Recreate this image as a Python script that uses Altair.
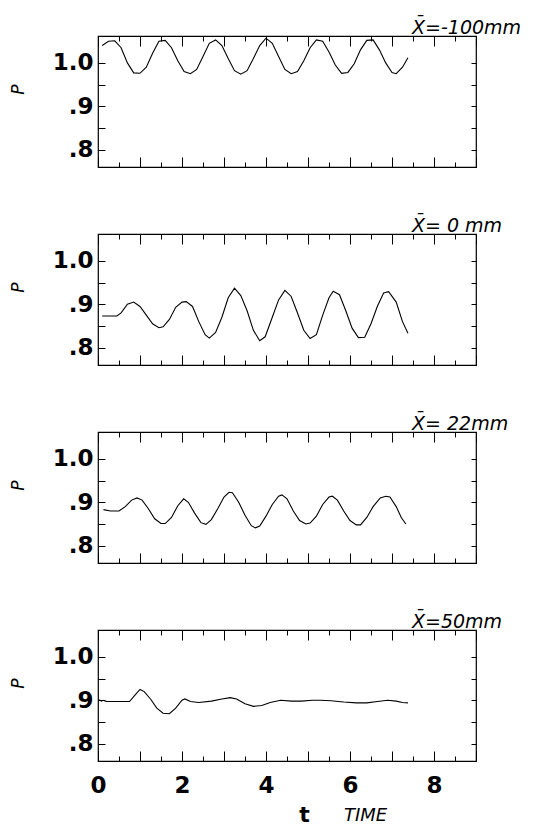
import altair as alt
import pandas as pd

# ---- data ----
t_m100 = [0.10, 0.25, 0.40, 0.55, 0.70, 0.85, 1.00, 1.15, 1.30, 1.45, 1.60, 1.75, 1.90, 2.05,
          2.20, 2.35, 2.50, 2.65, 2.80, 2.95, 3.10, 3.25, 3.40, 3.55, 3.70, 3.85, 4.00, 4.15,
          4.30, 4.45, 4.60, 4.75, 4.90, 5.05, 5.20, 5.35, 5.50, 5.65, 5.80, 5.95, 6.10, 6.25,
          6.40, 6.55, 6.70, 6.85, 7.00, 7.10, 7.25, 7.38]
p_m100 = [1.040, 1.050, 1.051, 1.035, 1.000, 0.977, 0.976, 0.990, 1.022, 1.050, 1.052, 1.035,
          1.005, 0.980, 0.975, 0.985, 1.015, 1.045, 1.053, 1.040, 1.010, 0.982, 0.974, 0.982,
          1.010, 1.040, 1.057, 1.045, 1.015, 0.985, 0.975, 0.980, 1.005, 1.035, 1.053, 1.050,
          1.025, 0.995, 0.976, 0.978, 0.998, 1.030, 1.052, 1.053, 1.030, 1.000, 0.978, 0.975,
          0.990, 1.012]

t_0 = [0.10, 0.45, 0.55, 0.70, 0.85, 1.00, 1.15, 1.30, 1.45, 1.55, 1.70, 1.85, 2.00, 2.10,
       2.25, 2.40, 2.55, 2.65, 2.80, 2.95, 3.10, 3.25, 3.40, 3.55, 3.70, 3.85, 3.98, 4.15,
       4.30, 4.45, 4.60, 4.75, 4.90, 5.05, 5.20, 5.35, 5.50, 5.60, 5.75, 5.90, 6.05, 6.20,
       6.35, 6.50, 6.65, 6.80, 6.92, 7.10, 7.25, 7.38]
p_0 = [0.873, 0.873, 0.880, 0.900, 0.905, 0.895, 0.875, 0.855, 0.846, 0.848, 0.865, 0.893,
       0.905, 0.906, 0.895, 0.860, 0.830, 0.822, 0.835, 0.870, 0.915, 0.937, 0.920, 0.885,
       0.840, 0.816, 0.825, 0.870, 0.910, 0.932, 0.918, 0.880, 0.840, 0.821, 0.830, 0.875,
       0.915, 0.930, 0.922, 0.885, 0.845, 0.823, 0.824, 0.855, 0.895, 0.926, 0.929, 0.905,
       0.860, 0.833]

t_22 = [0.13, 0.30, 0.50, 0.65, 0.80, 0.93, 1.05, 1.20, 1.35, 1.50, 1.60, 1.75, 1.90, 2.04,
        2.15, 2.30, 2.45, 2.57, 2.70, 2.85, 3.00, 3.12, 3.20, 3.35, 3.50, 3.65, 3.75, 3.85,
        4.00, 4.15, 4.30, 4.38, 4.50, 4.65, 4.80, 4.95, 5.05, 5.20, 5.35, 5.50, 5.58, 5.70,
        5.85, 6.00, 6.15, 6.25, 6.40, 6.55, 6.72, 6.85, 6.95, 7.10, 7.22, 7.33]
p_22 = [0.883, 0.880, 0.880, 0.890, 0.905, 0.910, 0.905, 0.885, 0.862, 0.851, 0.851, 0.865,
        0.892, 0.908, 0.900, 0.875, 0.853, 0.849, 0.860, 0.885, 0.912, 0.923, 0.922, 0.900,
        0.870, 0.846, 0.841, 0.845, 0.868, 0.895, 0.914, 0.917, 0.908, 0.880, 0.858, 0.850,
        0.852, 0.868, 0.895, 0.912, 0.914, 0.905, 0.880, 0.858, 0.848, 0.848, 0.865, 0.890,
        0.910, 0.914, 0.912, 0.890, 0.865, 0.850]

t_50 = [0.03, 0.08, 0.12, 0.20, 0.45, 0.75, 0.88, 1.00, 1.10, 1.25, 1.40, 1.55, 1.70, 1.85,
        2.00, 2.07, 2.20, 2.40, 2.70, 2.95, 3.15, 3.30, 3.50, 3.70, 3.90, 4.10, 4.35, 4.60,
        4.85, 5.10, 5.30, 5.55, 5.85, 6.15, 6.40, 6.65, 6.90, 7.10, 7.25, 7.38]
p_50 = [0.901, 0.898, 0.900, 0.897, 0.897, 0.897, 0.912, 0.925, 0.920, 0.903, 0.882, 0.870,
        0.869, 0.882, 0.900, 0.903, 0.897, 0.895, 0.898, 0.903, 0.906, 0.903, 0.892, 0.886,
        0.888, 0.895, 0.900, 0.898, 0.898, 0.900, 0.900, 0.899, 0.896, 0.894, 0.894, 0.897,
        0.900, 0.898, 0.895, 0.894]

panel_titles = ["X\u0304=-100mm", "X\u0304= 0 mm", "X\u0304= 22mm", "X\u0304=50mm"]
x_label_values = [0, 2, 4, 6, 8]
y_label_values = [0.8, 0.9, 1.0]
x_major = [0, 1, 2, 3, 4, 5, 6, 7, 8, 9]
x_minor = [0.5, 1.5, 2.5, 3.5, 4.5, 5.5, 6.5, 7.5, 8.5]
y_major = [0.8, 0.9, 1.0]
y_minor = [0.85, 0.95]
x_title = "t"
x_title2 = ["TIME"]
y_title = "P"

W, H = 378, 131
XDOM = [0, 9]
YDOM = [0.76, 1.062]
FONT = "DejaVu Sans"


def panel(t, p, title, bottom):
    df = pd.DataFrame({"t": t, "P": p})
    xs = alt.Scale(domain=XDOM, nice=False, zero=False)
    ys = alt.Scale(domain=YDOM, nice=False, zero=False)
    if bottom:
        xaxis = alt.Axis(orient="bottom", values=x_label_values, ticks=False, tickSize=0,
                         domain=False, grid=False, labelFont=FONT, labelFontSize=23,
                         labelFontWeight="bold", labelPadding=13, labelFlush=False,
                         labelColor="black", format="d",
                         title=x_title, titleFont=FONT, titleFontSize=22,
                         titleFontWeight="bold", titleColor="black", titleX=206, titleY=60,
                         titleAlign="center", titleBaseline="alphabetic")
    else:
        xaxis = None
    yaxis = alt.Axis(orient="left", values=y_label_values, ticks=False, tickSize=0,
                     domain=False, grid=False,
                     labelExpr="datum.value >= 0.99 ? '1.0' : '.' + round(datum.value * 10)",
                     labelFont=FONT, labelFontSize=23, labelFontWeight="bold",
                     labelPadding=5, labelColor="black",
                     title=y_title, titleFont=FONT, titleFontSize=17,
                     titleFontStyle="italic", titleFontWeight="normal", titleColor="black",
                     titleAngle=270, titleX=-80, titleY=53, titleAlign="center",
                     titleBaseline="middle")
    line = alt.Chart(df).mark_line(color="black", strokeWidth=1.1).encode(
        x=alt.X("t:Q", scale=xs, axis=xaxis),
        y=alt.Y("P:Q", scale=ys, axis=yaxis),
    )

    def tick_layer(xvals, xorient, xsize, yvals, yorient, ysize):
        return alt.Chart(df).mark_line(opacity=0).encode(
            x=alt.X("t:Q", scale=xs,
                    axis=alt.Axis(orient=xorient, offset=-H, values=xvals, tickSize=xsize,
                                  labels=False, domain=False, grid=False, title=None,
                                  tickColor="black", tickWidth=1)),
            y=alt.Y("P:Q", scale=ys,
                    axis=alt.Axis(orient=yorient, offset=-W, values=yvals, tickSize=ysize,
                                  labels=False, domain=False, grid=False, title=None,
                                  tickColor="black", tickWidth=1)),
        )

    layers = [
        line,
        tick_layer(x_major, "top", 10, y_major, "right", 7),
        tick_layer(x_minor, "top", 5, y_minor, "right", 7),
        tick_layer(x_major, "bottom", 10, y_major, "left", 5),
        tick_layer(x_minor, "bottom", 5, y_minor, "left", 5),
    ]
    if bottom:
        txt = alt.Chart(pd.DataFrame({"txt": x_title2})).mark_text(
            align="left", baseline="alphabetic", font=FONT, fontSize=18,
            fontStyle="italic", color="black"
        ).encode(text="txt:N", x=alt.value(246), y=alt.value(191))
        layers.append(txt)

    return alt.layer(*layers).resolve_axis(x="independent", y="independent").properties(
        width=W, height=H,
        title=alt.TitleParams(title, anchor="start", dx=314, offset=-17,
                              baseline="alphabetic", font=FONT, fontSize=19,
                              fontStyle="italic", fontWeight="normal", color="black",
                              frame="group"),
    )


chart = alt.vconcat(
    panel(t_m100, p_m100, panel_titles[0], False),
    panel(t_0, p_0, panel_titles[1], False),
    panel(t_22, p_22, panel_titles[2], False),
    panel(t_50, p_50, panel_titles[3], True),
    spacing=67, bounds="flush",
).properties(
    padding={"left": 0, "top": 9, "right": 5, "bottom": 5},
    background="white",
).configure_view(stroke="black", strokeWidth=1.2)

chart.save("out.html", embed_options={"renderer": "svg", "actions": False})
